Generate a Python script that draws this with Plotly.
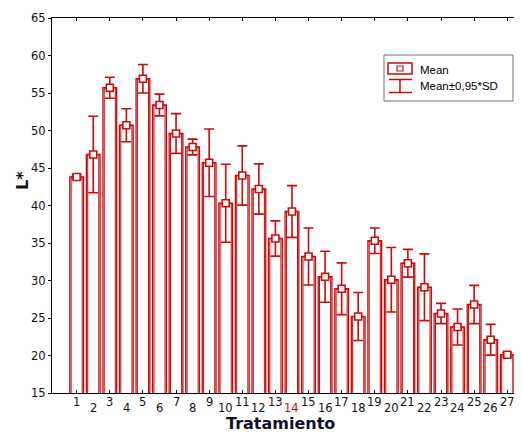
import plotly.graph_objects as go

categories = list(range(1, 28))
means = [43.8, 46.8, 55.7, 50.7, 56.9, 53.4, 49.6, 47.8, 45.7, 40.3, 44.0, 42.2, 35.6, 39.2,
         33.2, 30.5, 28.9, 25.2, 35.3, 30.1, 32.3, 29.1, 25.6, 23.8, 26.8, 22.1, 20.1]
errors = [0.3, 5.1, 1.4, 2.2, 1.9, 1.45, 2.65, 1.05, 4.5, 5.2, 3.95, 3.35, 2.35, 3.45,
          3.8, 3.4, 3.45, 3.2, 1.7, 4.3, 1.85, 4.45, 1.35, 2.4, 2.55, 2.05, 0.3]
tick_labels = [str(c) for c in categories]
y_ticks = [15, 20, 25, 30, 35, 40, 45, 50, 55, 60, 65]

RED = "#cc0a0a"

fig = go.Figure()
fig.add_trace(go.Bar(x=categories, y=means, width=0.83, marker=dict(color="white", line=dict(color=RED, width=1.3)),
                     showlegend=False, hoverinfo="skip"))
fig.add_trace(go.Bar(x=categories, y=means, width=0.67, marker=dict(color="rgba(255,255,255,0)", line=dict(color=RED, width=1)),
                     showlegend=False, hoverinfo="skip"))
fig.add_trace(go.Scatter(x=categories, y=means, mode="markers",
                         marker=dict(symbol="square", size=7, color="white", line=dict(color=RED, width=1.6)),
                         error_y=dict(type="data", array=errors, visible=True, color=RED, thickness=1.6, width=5),
                         showlegend=False))

# page offset of 8px (body margin) -> plot area in page pixels: x 52..519, y 18..393
def px_x(px):
    return (px - 52) / 467
def px_y(py):
    return (393 - py) / 375

annotations = []
for c, lab in zip(categories, tick_labels):
    annotations.append(dict(x=c, y=0, xref="x", yref="paper", text=lab, showarrow=False,
                            yanchor="top", yshift=(0 if c % 2 == 1 else -6),
                            font=dict(family="DejaVu Sans", size=11.5, color=(RED if lab == "14" else "#111111"))))
annotations.append(dict(x=px_x(280), y=px_y(423.5), xref="paper", yref="paper", text="<b>Tratamiento</b>",
                        showarrow=False, yanchor="middle", xanchor="center",
                        font=dict(family="DejaVu Sans", size=16, color="#10102a")))
annotations.append(dict(x=px_x(22), y=px_y(181), xref="paper", yref="paper", text="<b>L*</b>",
                        textangle=-90, showarrow=False, xanchor="center", yanchor="middle",
                        font=dict(family="DejaVu Sans", size=16, color="#10102a")))
annotations.append(dict(x=px_x(418), y=px_y(70), xref="paper", yref="paper", text="Mean", showarrow=False,
                        xanchor="left", yanchor="middle", font=dict(family="Liberation Sans", size=11.5, color="black")))
annotations.append(dict(x=px_x(418), y=px_y(86), xref="paper", yref="paper", text="Mean±0,95*SD", showarrow=False,
                        xanchor="left", yanchor="middle", font=dict(family="Liberation Sans", size=11.5, color="black")))

shapes = [
    dict(type="rect", xref="paper", yref="paper", x0=px_x(384), x1=px_x(513), y0=px_y(55), y1=px_y(101),
         line=dict(color="#707070", width=1), fillcolor="white", layer="above"),
    dict(type="rect", xref="paper", yref="paper", x0=px_x(388), x1=px_x(412), y0=px_y(63), y1=px_y(74),
         line=dict(color=RED, width=1.5), fillcolor="white", layer="above"),
    dict(type="rect", xref="paper", yref="paper", x0=px_x(397), x1=px_x(403), y0=px_y(66), y1=px_y(71),
         line=dict(color=RED, width=1.2), fillcolor="white", layer="above"),
    dict(type="line", xref="paper", yref="paper", x0=px_x(389), x1=px_x(412), y0=px_y(79.5), y1=px_y(79.5),
         line=dict(color=RED, width=1.5), layer="above"),
    dict(type="line", xref="paper", yref="paper", x0=px_x(400), x1=px_x(400), y0=px_y(79.5), y1=px_y(92.5),
         line=dict(color=RED, width=1.5), layer="above"),
    dict(type="line", xref="paper", yref="paper", x0=px_x(389), x1=px_x(412), y0=px_y(92.5), y1=px_y(92.5),
         line=dict(color=RED, width=1.5), layer="above"),
]

fig.update_layout(
    width=514, height=425,
    margin=dict(l=44, r=3, t=10, b=40),
    plot_bgcolor="white", paper_bgcolor="white",
    barmode="overlay",
    showlegend=False,
    annotations=annotations,
    shapes=shapes,
    xaxis=dict(range=[-0.49, 27.71], tickvals=[c for c in categories if c % 2 == 1], showticklabels=False,
               ticks="inside", ticklen=3, tickcolor="black", showline=True, linecolor="black", linewidth=1,
               mirror="ticks", showgrid=False, zeroline=False),
    yaxis=dict(range=[15, 65], tickvals=y_ticks, ticks="outside", ticklen=3, tickcolor="black",
               showline=True, linecolor="black", linewidth=1, showgrid=False, zeroline=False,
               tickfont=dict(family="DejaVu Sans", size=11.5, color="#111111")),
)

fig.write_html("out.html")
